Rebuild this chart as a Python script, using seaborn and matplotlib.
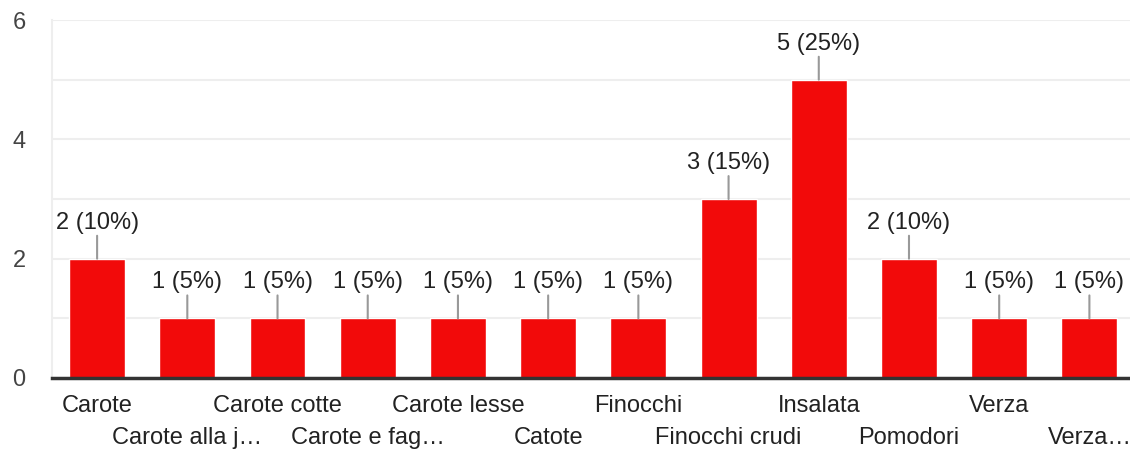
import matplotlib
matplotlib.use("Agg")
import matplotlib.pyplot as plt
import seaborn as sns
import pandas as pd


# Data

categories = [
    "Carote", "Carote alla j…", "Carote cotte", "Carote e fag…",
    "Carote lesse", "Catote", "Finocchi", "Finocchi crudi",
    "Insalata", "Pomodori", "Verza", "Verza…"
]
counts = [2, 1, 1, 1, 1, 1, 1, 3, 5, 2, 1, 1]
percents = [10, 5, 5, 5, 5, 5, 5, 15, 25, 10, 5, 5]
y_ticks = [0, 2, 4, 6]

df = pd.DataFrame({"category": categories, "count": counts})


# Figure setup

sns.set_style("white")
plt.rcParams["font.family"] = ["Liberation Sans", "DejaVu Sans"]

fig = plt.figure(figsize=(11.3, 4.55), dpi=100)
ax = fig.add_axes([52 / 1130, 1 - 378 / 455, 1 - 52 / 1130, (378 - 20) / 455])

for v in range(1, 7):
    ax.axhline(v, color="#eeeeee", lw=1.5, zorder=0)

sns.barplot(data=df, x="category", y="count", color="#f20a0a",
            width=0.62, saturation=1, ax=ax, zorder=2)

ax.set_xlim(-0.5, 11.45)
ax.set_ylim(0, 6)
ax.set_yticks(y_ticks)
ax.set_yticklabels([str(t) for t in y_ticks], fontsize=17, color="#444444")
ax.tick_params(axis="y", length=0, pad=19)
ax.set_xlabel("")
ax.set_ylabel("")


# Staggered x labels (offsets in points; 1 px = 0.72 pt)

ax.set_xticks(range(len(categories)))
ax.set_xticklabels([])
ax.tick_params(axis="x", length=0)
for i, name in enumerate(categories):
    dy = -20 if i % 2 == 0 else -43.5
    ax.annotate(name, xy=(i, 0), xytext=(0, dy), textcoords="offset points",
                ha="center", va="center", fontsize=17, color="#222222",
                annotation_clip=False)


# Value labels with small leader lines

for i, (c, p) in enumerate(zip(counts, percents)):
    ax.annotate("", xy=(i, c), xytext=(0, 16.5), textcoords="offset points",
                arrowprops=dict(arrowstyle="-", color="#999999", lw=1.5,
                                shrinkA=0, shrinkB=0))
    ax.annotate(f"{c} ({p}%)", xy=(i, c), xytext=(0, 18),
                textcoords="offset points", ha="center", va="bottom",
                fontsize=17, color="#222222")


# Spines

for s in ["top", "right"]:
    ax.spines[s].set_visible(False)
ax.spines["left"].set_color("#eeeeee")
ax.spines["left"].set_linewidth(1.5)
ax.spines["bottom"].set_color("#333333")
ax.spines["bottom"].set_linewidth(2.5)
ax.spines["bottom"].set_zorder(3)

fig.savefig("out.png", dpi=100)
